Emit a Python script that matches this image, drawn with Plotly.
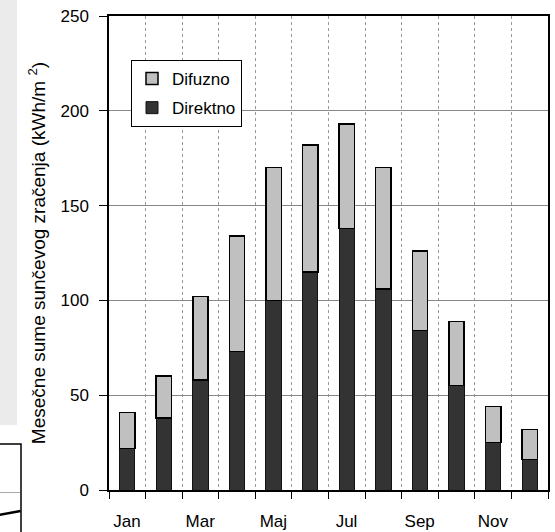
import plotly.graph_objects as go

months = ["Jan", "Feb", "Mar", "Apr", "Maj", "Jun", "Jul", "Avg", "Sep", "Okt", "Nov", "Dec"]
direktno = [22, 38, 58, 73, 100, 115, 138, 106, 84, 55, 25, 16]
difuzno = [19, 22, 44, 61, 70, 67, 55, 64, 42, 34, 19, 16]
y_ticks = [0, 50, 100, 150, 200, 250]

W, H = 555, 532
L, R, T, B = 109, 7, 16, 42
pw, ph = W - L - R, H - T - B

def px(x):
    return (x - L) / pw

def py(y):
    return (H - B - y) / ph

xpos = list(range(len(months)))
bounds = [i - 0.5 for i in range(len(months) + 1)]
bound_text = [months[i] if (i < len(months) and i % 2 == 0) else "" for i in range(len(bounds))]

fig = go.Figure()
fig.add_trace(go.Bar(x=xpos, y=direktno, name="Direktno", width=0.42,
                     marker=dict(color="#333333", line=dict(color="#111111", width=1)),
                     legendgroup="a", legendrank=2))
fig.add_trace(go.Bar(x=xpos, y=difuzno, name="Difuzno", width=0.42,
                     marker=dict(color="#c0c0c0", line=dict(color="#000000", width=1.5)),
                     legendgroup="b", legendrank=1))

fam = "Liberation Sans, Arial, sans-serif"
font = dict(family=fam, size=17, color="#000000")
title_font = dict(family=fam, size=19, color="#000000")

fig.update_layout(
    width=W, height=H,
    margin=dict(l=L, r=R, t=T, b=B, pad=0, autoexpand=False),
    barmode="stack",
    plot_bgcolor="#ffffff", paper_bgcolor="#ffffff",
    font=font,
    showlegend=True,
    legend=dict(x=px(131), y=py(60), xanchor="left", yanchor="top",
                bordercolor="#000000", borderwidth=1, bgcolor="#ffffff",
                traceorder="grouped", tracegroupgap=4, itemwidth=30,
                font=font),
    xaxis=dict(range=[-0.5, len(months) - 0.5], tickmode="array",
               tickvals=bounds, ticktext=bound_text, ticklabelshift=round(pw / len(months) / 2),
               ticks="outside", ticklen=7, tickwidth=1.2, tickcolor="#000000",
               showline=True, linecolor="#000000", linewidth=1.5, mirror=True,
               showgrid=True, gridcolor="#999999", griddash="dot", gridwidth=1,
               zeroline=False, tickfont=font, ticklabelstandoff=8, automargin=False),
    yaxis=dict(range=[0, 250], tickmode="array", tickvals=y_ticks,
               ticks="outside", ticklen=8, tickwidth=1.2, tickcolor="#000000",
               showline=True, linecolor="#000000", linewidth=1.5, mirror=True,
               showgrid=True, gridcolor="#888888", gridwidth=1,
               zeroline=False, tickfont=font, ticklabelstandoff=7, automargin=False,
               title=dict(text="Mesečne sume sunčevog zračenja (kWh/m <sup>2</sup>)",
                          font=title_font, standoff=10)),
    shapes=[
        dict(type="rect", xref="paper", yref="paper", x0=px(-2), x1=px(17), y0=py(425), y1=py(-2),
             fillcolor="#ebebeb", line=dict(width=0), layer="below"),
        dict(type="rect", xref="paper", yref="paper", x0=px(-3), x1=px(21), y0=py(540), y1=py(444),
             fillcolor="#ffffff", line=dict(color="#000000", width=1.5), layer="below"),
        dict(type="line", xref="paper", yref="paper", x0=px(0), x1=px(20), y0=py(492.5), y1=py(492.5),
             line=dict(color="#aaaaaa", width=1), layer="below"),
        dict(type="line", xref="paper", yref="paper", x0=px(-1), x1=px(20.5), y0=py(515), y1=py(511),
             line=dict(color="#000000", width=2.5), layer="below"),
    ],
)

fig.write_html("out.html", config={"displayModeBar": False},
               post_script="document.body.style.margin='0';")
